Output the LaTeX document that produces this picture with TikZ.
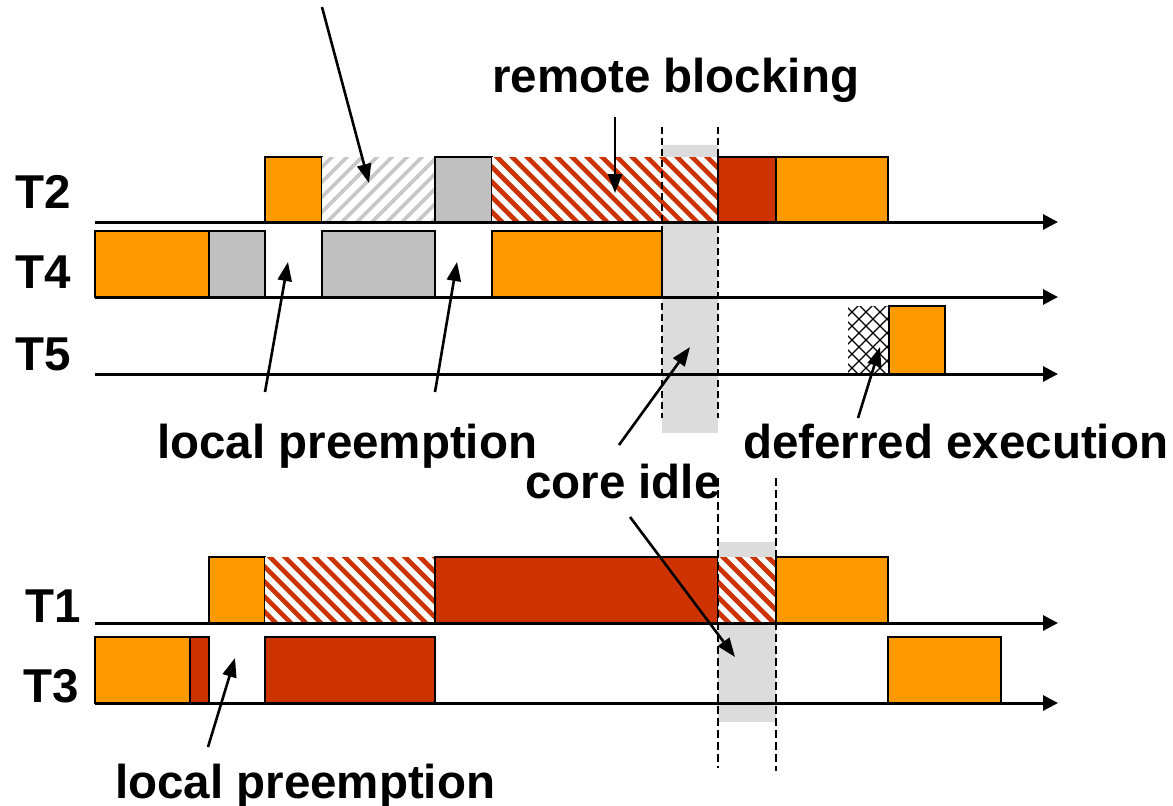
\documentclass[tikz,border=0pt]{standalone}
\usepackage{fontspec}
\setmainfont{Liberation Sans}
\usetikzlibrary{arrows.meta}

\definecolor{runorange}{HTML}{FF9900}
\definecolor{critred}{HTML}{CC3300}
\definecolor{waitgrey}{HTML}{C0C0C0}
\definecolor{idlegrey}{HTML}{DCDCDC}
\definecolor{stripegrey}{HTML}{C8C8C8}

% striped block without outline: x1 y1 x2 y2 colour; "\" direction
\newcommand{\downstripes}[5]{%
  \begin{scope}
    \clip (#1,#2) rectangle (#3,#4);
    \fill[white] (#1,#2) rectangle (#3,#4);
    \foreach \k in {-90,-75,...,330}
      \draw[#5, line width=4.6pt] (#1+\k,#2-5) -- (#1+\k+80,#2+75);
  \end{scope}}
% striped block without outline: "/" direction
\newcommand{\upstripes}[5]{%
  \begin{scope}
    \clip (#1,#2) rectangle (#3,#4);
    \fill[white] (#1,#2) rectangle (#3,#4);
    \foreach \k in {-90,-75,...,330}
      \draw[#5, line width=3.6pt] (#1+\k,#4+5) -- (#1+\k+80,#4-75);
  \end{scope}}
% cross-hatched block without outline
\newcommand{\crossgrid}[4]{%
  \begin{scope}
    \clip (#1,#2) rectangle (#3,#4);
    \fill[white] (#1,#2) rectangle (#3,#4);
    \foreach \k in {-91,-77,...,60} {
      \draw[black, line width=1.1pt] (#1+\k,#2-5) -- (#1+\k+80,#2+75);
      \draw[black, line width=1.1pt] (#1+\k,#4+5) -- (#1+\k+80,#4-75);
    }
  \end{scope}}

\begin{document}
\begin{tikzpicture}[x=1pt,y=-1pt,
  job/.style={draw=black, line width=2.6pt},
  runjob/.style={job, fill=runorange},
  critjob/.style={job, fill=critred},
  waitjob/.style={job, fill=waitgrey},
  idleband/.style={fill=idlegrey, draw=none},
  timeaxis/.style={line width=3pt, -{Triangle[length=15pt,width=15pt]}},
  pointer/.style={line width=2.6pt, -{Triangle[length=19pt,width=14pt]}},
  boundary/.style={line width=2.5pt, dash pattern=on 7pt off 4pt},
  thinboundary/.style={line width=1.8pt, dash pattern=on 8pt off 4pt},
  lbl/.style={font=\fontsize{47.5}{57}\selectfont\bfseries, inner sep=0pt, anchor=base west},
]
\useasboundingbox (0,0) rectangle (1173,806);

% idle intervals
\fill[idleband] (662,145) rectangle (718,433);
\fill[idleband] (718,542) rectangle (776,722);

% ---- core of T2, T4, T5 ----
% T2
\draw[runjob] (265,157) rectangle (322,222);
\upstripes{322}{157}{435}{222}{stripegrey}
\draw[waitjob] (435,157) rectangle (492,222);
\downstripes{492}{157}{718}{222}{critred}
\draw[critjob] (718,157) rectangle (776,222);
\draw[runjob] (776,157) rectangle (888,222);
% T4
\draw[runjob] (95,231) rectangle (209,297);
\draw[waitjob] (209,231) rectangle (265,297);
\draw[waitjob] (322,231) rectangle (435,297);
\draw[runjob] (492,231) rectangle (662,297);
% T5
\crossgrid{848}{306}{889}{374}
\draw[runjob] (889,306) rectangle (945,374);

% ---- core of T1, T3 ----
% T1
\draw[runjob] (209,557) rectangle (265,623);
\downstripes{265}{557}{435}{623}{critred}
\draw[critjob] (435,557) rectangle (718,623);
\downstripes{718}{557}{776}{623}{critred}
\draw[runjob] (776,557) rectangle (888,623);
% T3
\draw[runjob] (95,637) rectangle (190,703);
\draw[critjob] (190,637) rectangle (209,703);
\draw[critjob] (265,637) rectangle (435,703);
\draw[runjob] (888,637) rectangle (1001,703);

% time axes
\coordinate (a2s) at (95,222);  \coordinate (a2e) at (1058,222);
\coordinate (a4s) at (95,297);  \coordinate (a4e) at (1058,297);
\coordinate (a5s) at (95,374);  \coordinate (a5e) at (1058,374);
\coordinate (a1s) at (95,623);  \coordinate (a1e) at (1058,623);
\coordinate (a3s) at (95,703);  \coordinate (a3e) at (1058,703);
\foreach \s/\e in {a2s/a2e,a4s/a4e,a5s/a5e,a1s/a1e,a3s/a3e}
  \draw[timeaxis] (\s) -- (\e);

% interval boundaries
\coordinate (u1t) at (662,127); \coordinate (u1b) at (662,418);
\coordinate (u2t) at (718,127); \coordinate (u2b) at (718,418);
\coordinate (l1t) at (718,478); \coordinate (l1b) at (718,768);
\coordinate (l2t) at (776,478); \coordinate (l2b) at (776,771);
\draw[boundary] (u1t) -- (u1b);
\draw[boundary] (u2t) -- (u2b);
\draw[thinboundary] (l1t) -- (l1b);
\draw[thinboundary] (l2t) -- (l2b);

% task names
\node[lbl] (nT2) at (15,208) {T2};
\node[lbl] (nT4) at (15,288) {T4};
\node[lbl] (nT5) at (15,370) {T5};
\node[lbl] (nT1) at (25,622) {T1};
\node[lbl] (nT3) at (23,702) {T3};

% annotations
\node[lbl] (remote) at (492,92) {remote blocking};
\node[lbl] (localtop) at (157,458) {local preemption};
\node[lbl] (deferred) at (743,458) {deferred execution};
\node[lbl] (coreidle) at (525,498) {core idle};
\node[lbl] (localbot) at (115,798) {local preemption};

% pointer ends
\coordinate (p1s) at (322,7);   \coordinate (p1e) at (369,183);
\coordinate (p2s) at (615,117); \coordinate (p2e) at (615,193);
\coordinate (p3s) at (265,392); \coordinate (p3e) at (288,262);
\coordinate (p4s) at (435,392); \coordinate (p4e) at (457,262);
\coordinate (p5s) at (619,445); \coordinate (p5e) at (690,347);
\coordinate (p6s) at (630,517); \coordinate (p6e) at (735,657);
\coordinate (p7s) at (858,418); \coordinate (p7e) at (880,347);
\coordinate (p8s) at (208,747); \coordinate (p8e) at (235,658);
\foreach \s/\e in {p1s/p1e,p2s/p2e,p3s/p3e,p4s/p4e,p5s/p5e,p6s/p6e,p7s/p7e,p8s/p8e}
  \draw[pointer] (\s) -- (\e);
\end{tikzpicture}
\end{document}
